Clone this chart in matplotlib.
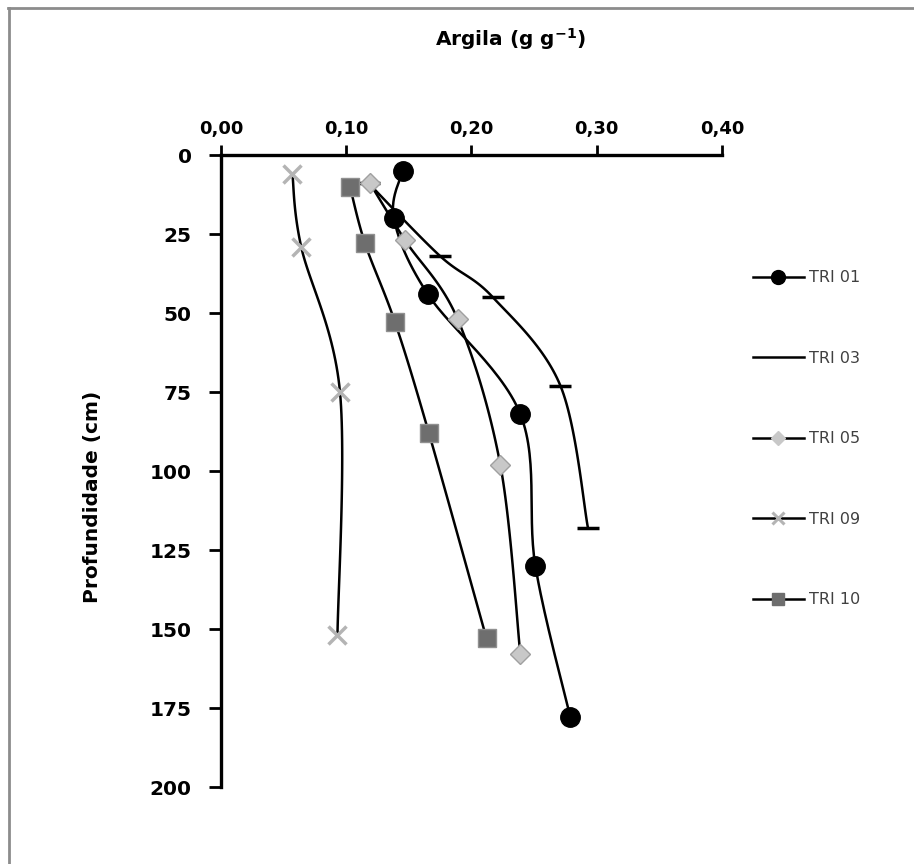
import numpy as np
import matplotlib
matplotlib.use("Agg")
import matplotlib.pyplot as plt
from matplotlib.lines import Line2D

# --- data (argila g/g vs profundidade cm) ---
tri01_x = [0.145, 0.138, 0.165, 0.239, 0.251, 0.279]
tri01_y = [5, 20, 44, 82, 130, 178]
tri03_x = [0.118, 0.175, 0.217, 0.271, 0.293]
tri03_y = [9, 32, 45, 73, 118]
tri05_x = [0.119, 0.147, 0.189, 0.223, 0.239]
tri05_y = [9, 27, 52, 98, 158]
tri09_x = [0.057, 0.064, 0.095, 0.093]
tri09_y = [6, 29, 75, 152]
tri10_x = [0.103, 0.115, 0.139, 0.166, 0.212]
tri10_y = [10, 28, 53, 88, 153]

labels = ["TRI 01", "TRI 03", "TRI 05", "TRI 09", "TRI 10"]
x_ticks = [0.0, 0.1, 0.2, 0.3, 0.4]
y_ticks = [0, 25, 50, 75, 100, 125, 150, 175, 200]


def smooth(xs, ys, n=30):
    # catmull-rom curve like excel "smoothed line"
    p = np.column_stack([xs, ys]).astype(float)
    p = np.vstack([p[0], p, p[-1]])
    out = []
    for i in range(1, len(p) - 2):
        p0, p1, p2, p3 = p[i - 1], p[i], p[i + 1], p[i + 2]
        t = np.linspace(0, 1, n)[:, None]
        seg = 0.5 * ((2 * p1) + (-p0 + p2) * t + (2 * p0 - 5 * p1 + 4 * p2 - p3) * t**2
                     + (-p0 + 3 * p1 - 3 * p2 + p3) * t**3)
        out.append(seg)
    c = np.vstack(out)
    return c[:, 0], c[:, 1]


fig = plt.figure(figsize=(9.14, 8.64), dpi=100)
ax = fig.add_axes([0.2418, 0.0891, 0.5481, 0.7315])

styles = [
    dict(marker="o", ms=14, mfc="black", mec="black", mew=1),
    dict(marker="_", ms=16, mfc="black", mec="black", mew=2.5),
    dict(marker="D", ms=10, mfc="#c8c8c8", mec="#a0a0a0", mew=1),
    dict(marker="x", ms=13, mfc="#b4b4b4", mec="#b4b4b4", mew=2.5),
    dict(marker="s", ms=13, mfc="#6e6e6e", mec="#909090", mew=1),
]
series = [(tri01_x, tri01_y), (tri03_x, tri03_y), (tri05_x, tri05_y),
          (tri09_x, tri09_y), (tri10_x, tri10_y)]

for (xs, ys), st in zip(series, styles):
    sx, sy = smooth(xs, ys)
    ax.plot(sx, sy, color="black", lw=1.8, zorder=2)
for (xs, ys), st in zip(series, styles):
    ax.plot(xs, ys, ls="none", zorder=3, **st)

ax.set_xlim(0, 0.4)
ax.set_ylim(200, 0)
ax.xaxis.tick_top()
ax.set_xticks(x_ticks)
ax.set_xticklabels([f"{v:.2f}".replace(".", ",") for v in x_ticks],
                   family="DejaVu Sans", fontweight="bold", fontsize=13)
ax.set_yticks(y_ticks)
ax.set_yticklabels([str(v) for v in y_ticks], family="DejaVu Sans",
                   fontweight="bold", fontsize=14.5)
ax.tick_params(axis="x", length=7, width=2, pad=5, direction="out")
ax.tick_params(axis="y", length=9, width=2, pad=12, direction="out")
for s in ["right", "bottom"]:
    ax.spines[s].set_visible(False)
for s in ["left", "top"]:
    ax.spines[s].set_linewidth(2.4)

plt.rcParams["mathtext.fontset"] = "dejavusans"
fig.text(0.559, 0.955, r"Argila (g g$^{\mathbf{-1}}$)", ha="center", va="center",
         family="DejaVu Sans", fontweight="bold", fontsize=14.5)
fig.text(0.101, 0.425, "Profundidade (cm)", rotation=90, ha="center", va="center",
         family="DejaVu Sans", fontweight="bold", fontsize=14.5)

# legend
handles = [
    Line2D([], [], color="black", lw=1.8, marker="o", ms=10, mfc="black", mec="black"),
    Line2D([], [], color="black", lw=1.8),
    Line2D([], [], color="black", lw=1.8, marker="D", ms=7, mfc="#c8c8c8", mec="#c8c8c8"),
    Line2D([], [], color="black", lw=1.8, marker="x", ms=9, mec="#b4b4b4", mew=2.2),
    Line2D([], [], color="black", lw=1.8, marker="s", ms=9, mfc="#6e6e6e", mec="#6e6e6e"),
]
fig.legend(handles, labels, loc="center left", bbox_to_anchor=(0.808, 0.492),
           frameon=False, handlelength=3.2, handletextpad=0.3, labelspacing=4.1,
           prop=dict(family="DejaVu Sans", size=11.5), labelcolor="#404040")

# outer border (only top and left visible in the reference)
fig.add_artist(Line2D([0.009, 1.0], [0.991, 0.991], transform=fig.transFigure,
                      color="#8c8c8c", lw=2))
fig.add_artist(Line2D([0.0098, 0.0098], [0.0, 0.991], transform=fig.transFigure,
                      color="#8c8c8c", lw=2))

fig.savefig("out.png", dpi=100)
